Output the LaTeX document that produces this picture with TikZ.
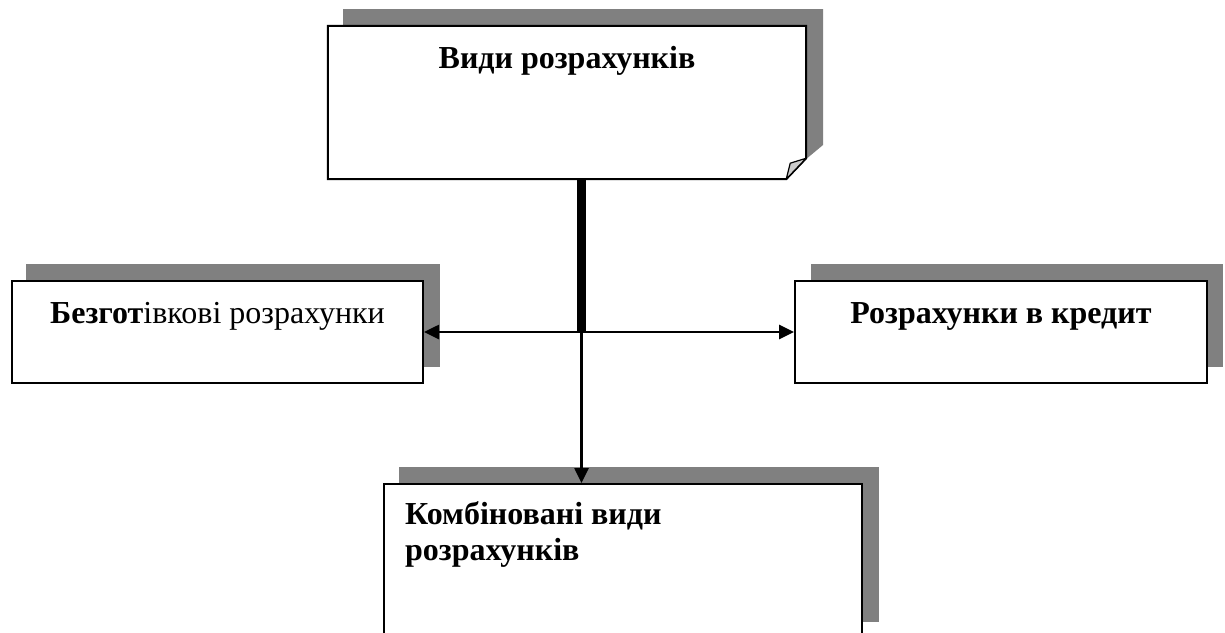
\documentclass[tikz,border=0pt]{standalone}
\usepackage{fontspec}
\setmainfont{Liberation Serif}
\usetikzlibrary{arrows.meta,calc}
\begin{document}
\begin{tikzpicture}[x=1pt,y=-1pt,
  boxshape/.style={rectangle,draw=black,line width=2pt,fill=white,inner sep=0pt},
  shadowfill/.style={fill=black!50,draw=none},
  txt/.style={inner sep=0pt,font=\fontsize{32}{33}\selectfont},
  conn/.style={line width=2.6pt,-{Triangle[length=15pt,width=14pt]}},
  conn2/.style={line width=2.6pt,{Triangle[length=15pt,width=14pt]}-{Triangle[length=15pt,width=14pt]}},
  thick/.style={line width=9pt}]
\useasboundingbox (0,0) rectangle (1225,632);
% shadows
\fill[shadowfill] (343,9) -- (823,9) -- (823,145) -- (805,160) -- (343,160) -- cycle;
\fill[shadowfill] (26,264) rectangle (440,367);
\fill[shadowfill] (811,264) rectangle (1223,367);
\fill[shadowfill] (399,467) rectangle (879,622);
% top box with folded corner
\node[rectangle,inner sep=0pt,minimum width=478pt,minimum height=153pt] (top) at (567,102.5) {};
\draw[line width=2pt,fill=white,line join=miter]
  (top.north west) -- (top.north east) -- ($(top.south east)+(0,-21)$)
  -- ($(top.south east)+(-20,0)$) -- (top.south west) -- cycle;
\draw[line width=1.2pt,fill=black!20,line join=round]
  ($(top.south east)+(-20,0)$) -- ($(top.south east)+(-16,-16)$) -- ($(top.south east)+(0,-21)$) -- cycle;
\node[txt,anchor=base,font=\fontsize{32}{33}\selectfont\bfseries] (toptext) at (567,68) {Види розрахунків};
% side boxes
\node[boxshape,minimum width=411pt,minimum height=102pt] (left) at (217.5,332) {};
\node[txt,anchor=base] (lefttext) at (217.5,323) {\textbf{Безгот}івкові розрахунки};
\node[boxshape,minimum width=412pt,minimum height=102pt] (right) at (1001,332) {};
\node[txt,anchor=base,font=\fontsize{32}{33}\selectfont\bfseries] (righttext) at (1001,323) {Розрахунки в кредит};
% bottom box
\node[boxshape,minimum width=478pt,minimum height=156pt] (bot) at (623,562) {};
\node[txt,anchor=base west,align=left,font=\fontsize{32}{33}\selectfont\bfseries] (bottext) at (405,560) {Комбіновані види\\[3pt]розрахунків};
% connectors
\coordinate (hub) at (581.5,332);
\draw[thick] (hub |- top.south) -- (hub);
\draw[conn2] (left.east) -- (right.west);
\draw[conn] (hub) -- (hub |- bot.north);
\end{tikzpicture}
\end{document}
